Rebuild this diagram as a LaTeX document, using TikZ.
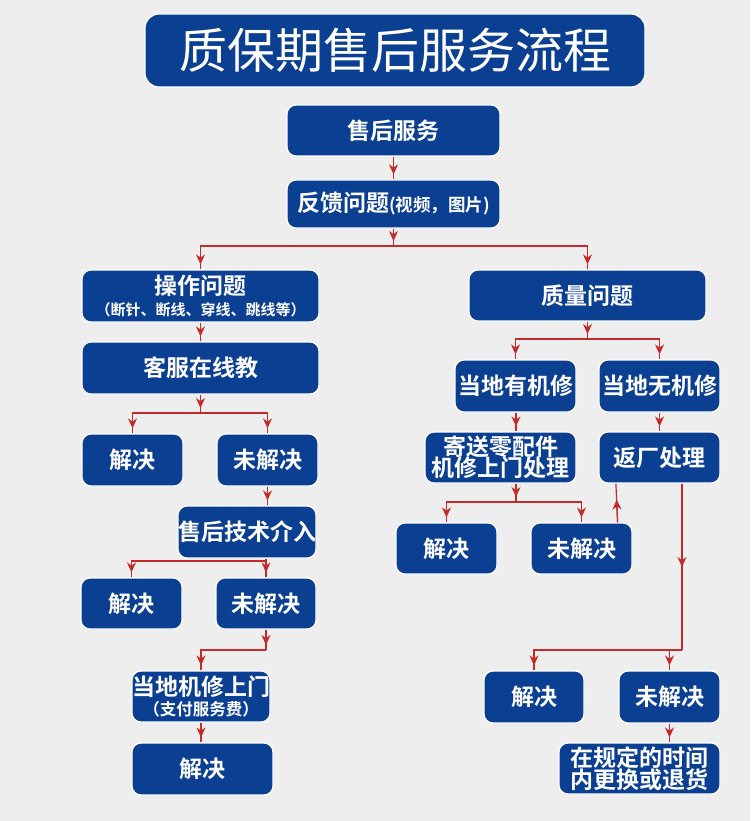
\documentclass[tikz,border=0pt]{standalone}
\usepackage{fontspec}
\newfontfamily\cjk{Noto Sans CJK SC}[BoldFont={Noto Sans CJK SC Bold}]
\usetikzlibrary{arrows.meta,calc}
\definecolor{boxblue}{HTML}{0B3F92}
\definecolor{lnred}{HTML}{C42A2A}
\definecolor{bggray}{HTML}{EEEEEE}
\newcommand{\boxsize}{\fontsize{23}{25}\selectfont}
\newcommand{\notesize}{\fontsize{15}{16}\selectfont}

\begin{document}
\begin{tikzpicture}[x=1pt, y=-1pt,
    stepbox/.style={draw=white, line width=1.2pt, fill=boxblue, rounded corners=9pt,
        text=white, align=center, inner sep=0pt, font=\cjk\bfseries\boxsize},
    wire/.style={draw=lnred, line width=1.2pt},
    link/.style={wire, postaction={draw=lnred, line width=1.2pt,
        -{Stealth[length=10pt,width=9pt]}, shorten >=#1}},
    link/.default=5pt]

    % background and frame
    \fill[bggray] (0,0) rectangle (750,821);
    \useasboundingbox (0,0) rectangle (750,821);

    % Title
    \node[stepbox, minimum width=500pt, minimum height=73pt, rounded corners=14pt,
        font=\cjk\fontsize{48}{50}\selectfont] (title) at (395,50.5) {质保期售后服务流程};

    % Trunk
    \node[stepbox, minimum width=213pt, minimum height=51pt] (ss) at (393.5,130.5) {售后服务};
    \node[stepbox, minimum width=213pt, minimum height=48pt] (fk) at (393.5,204)
        {反馈问题{\fontsize{17.5}{18}\selectfont(视频，图片)}};

    % Left branch: operation problems
    \node[stepbox, minimum width=237pt, minimum height=52pt] (cz) at (200.5,296)
        {操作问题\\[-4pt]{\notesize（断针、断线、穿线、跳线等）}};
    \node[stepbox, minimum width=237pt, minimum height=52pt] (kf) at (200.5,368) {客服在线教};
    \node[stepbox, minimum width=101pt, minimum height=52pt] (jjA) at (132.5,460) {解决};
    \node[stepbox, minimum width=101pt, minimum height=52pt] (wjA) at (267.5,460) {未解决};
    \node[stepbox, minimum width=134pt, minimum height=52pt] (js) at (247,532) {售后技术介入};
    \node[stepbox, minimum width=101pt, minimum height=51pt] (jjB) at (131.5,603.5) {解决};
    \node[stepbox, minimum width=100pt, minimum height=51pt] (wjB) at (266,603.5) {未解决};
    \node[stepbox, minimum width=138pt, minimum height=51pt] (lm) at (201,696.5)
        {当地机修上门\\[-5pt]{\fontsize{16.5}{17}\selectfont（支付服务费）}};
    \node[stepbox, minimum width=141pt, minimum height=52pt] (jjC) at (202.5,769) {解决};

    % Right branch: quality problems
    \node[stepbox, minimum width=237pt, minimum height=51pt] (zl) at (587.5,295.5) {质量问题};
    \node[stepbox, minimum width=121pt, minimum height=52pt] (yj) at (515.5,386) {当地有机修};
    \node[stepbox, minimum width=121pt, minimum height=52pt] (wx) at (659.5,386) {当地无机修};
    \node[stepbox, minimum width=151pt, minimum height=51pt] (jl) at (500.5,457.5)
        {寄送零配件\\[-4pt]机修上门处理};
    \node[stepbox, minimum width=121pt, minimum height=51pt] (fc) at (659.5,457.5) {返厂处理};
    \node[stepbox, minimum width=101pt, minimum height=51pt] (jjD) at (446.5,548.5) {解决};
    \node[stepbox, minimum width=101pt, minimum height=51pt] (wjD) at (581.5,548.5) {未解决};
    \node[stepbox, minimum width=100pt, minimum height=52pt] (jjE) at (534,697) {解决};
    \node[stepbox, minimum width=101pt, minimum height=52pt] (wjE) at (669.5,697) {未解决};
    \node[stepbox, minimum width=161pt, minimum height=51pt] (gd) at (639.5,768.5)
        {在规定的时间\\[-3pt]内更换或退货};

    % Junctions
    \coordinate (j1) at (393.5,246);
    \coordinate (j2) at (200.5,413);
    \coordinate (j3) at (266,561);
    \coordinate (j4) at (266,650);
    \coordinate (jq) at (587.5,339);
    \coordinate (jy) at (516,502);
    \coordinate (fm) at (682,572);
    \coordinate (fx) at (682,650);

    % Connections
    \draw[link] (ss) -- (fk);
    \draw[link] (fk) -- (j1);
    \draw[link] (j1) -| (cz.north);
    \draw[link] (j1) -| (zl.north);

    \draw[link] (cz) -- (kf);
    \draw[link] (kf) -- (j2);
    \draw[link] (j2) -| (jjA.north);
    \draw[link] (j2) -| (wjA.north);
    \draw[link] (wjA.south) -- (wjA.south |- js.north);
    \draw[wire] (js.south -| j3) -- (j3);
    \draw[link] (j3) -| (jjB.north);
    \draw[link] (j3) -- (wjB.north);
    \draw[link] (wjB) -- (j4);
    \draw[link] (j4) -| (lm.north);
    \draw[link] (lm.south) -- (lm.south |- jjC.north);

    \draw[link] (zl) -- (jq);
    \draw[link] (jq) -| (yj.north);
    \draw[link] (jq) -| (wx.north);
    \draw[link] (yj.south -| jy) -- (jl.north -| jy);
    \draw[link] (wx) -- (fc);
    \draw[link] (jl.south -| jy) -- (jy);
    \draw[link] (jy) -| (jjD.north);
    \draw[link] (jy) -| (wjD.north);
    \draw[link=16pt] ($(wjD.north east)+(-15,0)$) -- ($(fc.south west)+(17.5,0)$);
    \draw[link] (fc.south -| fx) -- (fm);
    \draw[wire] (fm) -- (fx);
    \draw[link] (fx) -| (jjE.north);
    \draw[link] (fx) -| (wjE.north);
    \draw[link] (wjE) -- (wjE.south |- gd.north);
\end{tikzpicture}
\end{document}
